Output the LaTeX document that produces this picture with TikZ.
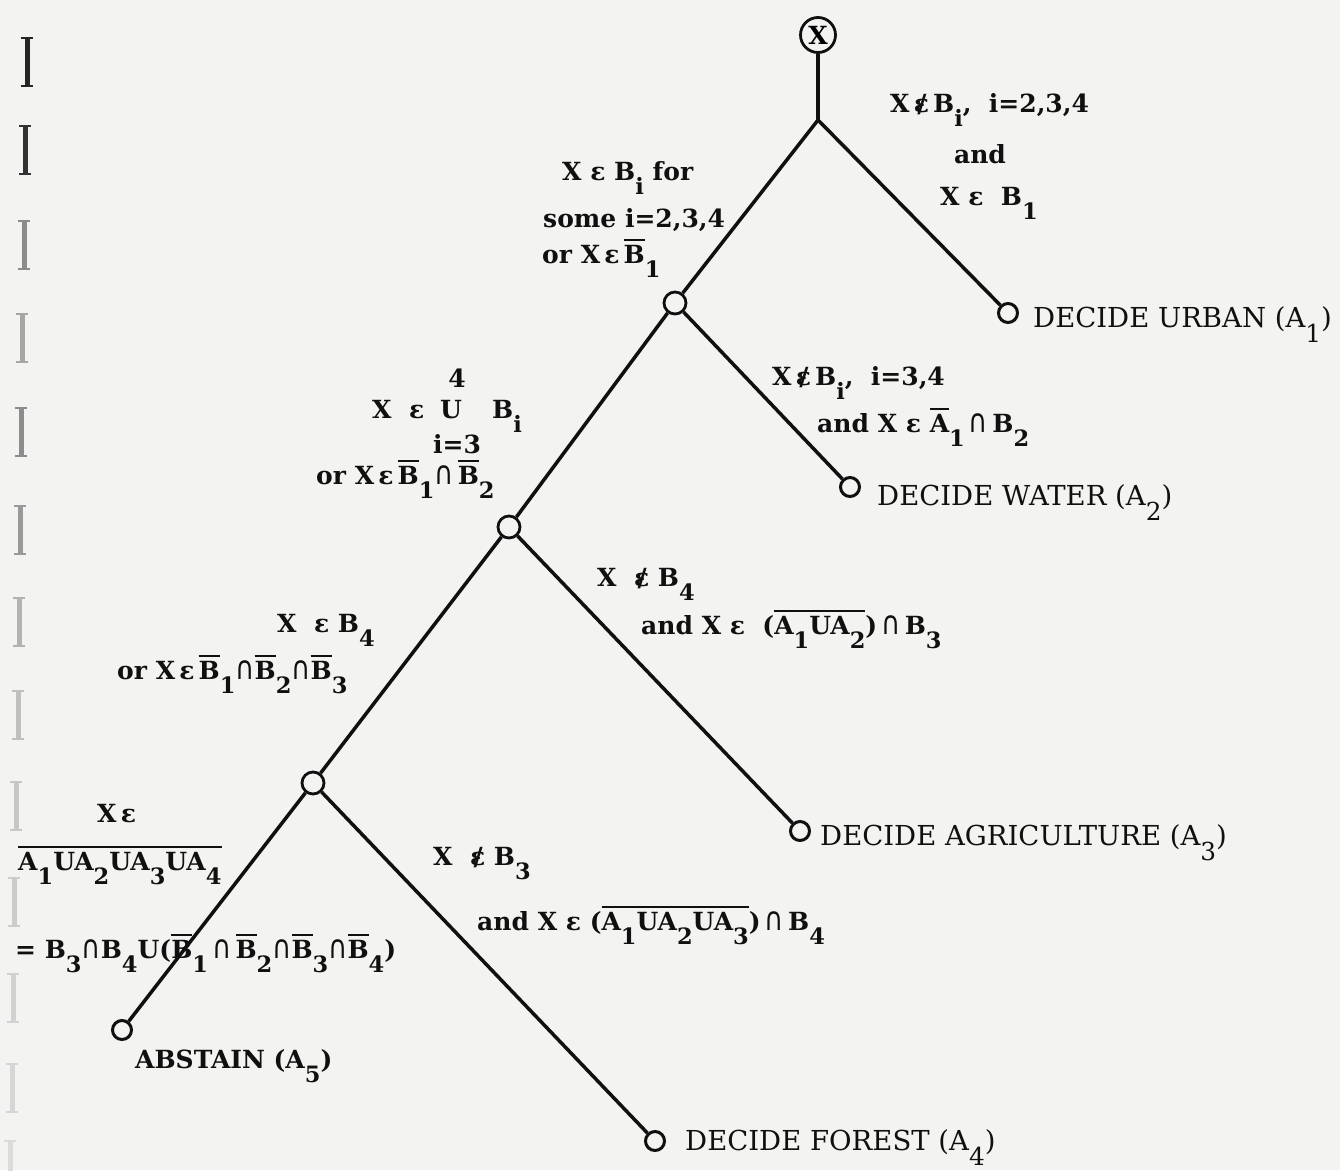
\documentclass[tikz,border=0pt]{standalone}
\usepackage{fontspec}
\setmainfont{DejaVu Serif}
\newfontfamily\symf{DejaVu Sans}
\definecolor{paper}{HTML}{F3F3F1}
\definecolor{ink}{HTML}{101010}
\newcommand\lo[1]{\raisebox{-0.58em}{\scalebox{0.9}{#1}}}
\newcommand\ob[1]{\setbox0\hbox{#1}\rlap{\raisebox{\dimexpr\ht0+4pt\relax}{\rule{\wd0}{2pt}}}\box0}
\newcommand\eps{ε}
\newcommand\nin{\ooalign{ε\cr\hidewidth\kern0.05em/\hidewidth\cr}}
\newcommand\icap{\scalebox{1.05}[1.3]{\symf\mdseries ∩}}
\tikzset{
  edge/.style={draw=ink, line width=3.5pt},
  leaf/.style={circle, draw=ink, line width=3pt, minimum size=19pt, inner sep=0pt},
  inner/.style={circle, draw=ink, line width=2.8pt, minimum size=22pt, inner sep=0pt, fill=paper},
  rootn/.style={circle, draw=ink, line width=2.8pt, minimum size=35pt, inner sep=0pt, font=\fontsize{25}{27}\selectfont\bfseries},
  cond/.style={font=\fontsize{25}{28}\selectfont\bfseries, text=ink, anchor=base west, inner sep=0pt},
  dec/.style={font=\fontsize{27.5}{30}\selectfont, text=ink, anchor=base west, inner sep=0pt}
}
\begin{document}
\begin{tikzpicture}[x=1pt,y=-1pt]
\fill[paper] (0,0) rectangle (1340,1170);
\useasboundingbox (0,0) rectangle (1340,1170);
% binding marks
\foreach \yy/\gg/\xx in {62/85/27,150/80/25,245/45/24,338/35/22,432/45/21,530/40/20,622/30/19,715/25/18,806/22/16,902/20/14,998/18/13,1088/16/12,1165/14/10}{
  \draw[black!\gg, line width=5pt] (\xx,\yy-24) -- (\xx,\yy+24);
  \draw[black!\gg, line width=2pt] (\xx-6,\yy-24) -- (\xx+6,\yy-24);
  \draw[black!\gg, line width=2pt] (\xx-6,\yy+24) -- (\xx+6,\yy+24);
}
% tree nodes
\node[rootn] (root) at (818,35) {X};
\coordinate (s0) at (818,120);
\node[inner] (n1) at (675,303) {};
\node[inner] (n2) at (509,527) {};
\node[inner] (n3) at (313,783) {};
\node[leaf] (urban) at (1008,313) {};
\node[leaf] (water) at (850,487) {};
\node[leaf] (agri) at (800,831) {};
\node[leaf] (forest) at (655,1141) {};
\node[leaf] (abst) at (122,1030) {};
% connectors
\draw[edge] (root) -- (s0);
\draw[edge] (s0) -- (urban);
\draw[edge] (s0) -- (n1);
\draw[edge] (n1) -- (water);
\draw[edge] (n1) -- (n2);
\draw[edge] (n2) -- (agri);
\draw[edge] (n2) -- (n3);
\draw[edge] (n3) -- (forest);
\draw[edge] (n3) -- (abst);
% leaf labels
\node[dec] (lurban) at (1033,327) {DECIDE URBAN (A\lo{1})};
\node[dec] (lwater) at (877,505) {DECIDE WATER (A\lo{2})};
\node[dec] (lagri) at (820,845) {DECIDE AGRICULTURE (A\lo{3})};
\node[dec] (lforest) at (685,1150) {DECIDE FOREST (A\lo{4})};
\node[cond] (labst) at (135,1068) {ABSTAIN (A\lo{5})};
% conditions, level 0
\node[cond] (c0a) at (890,112) {X\,\nin\,B\lo{i}, \ i=2,3,4};
\node[cond, anchor=base] (c0b) at (980,163) {and};
\node[cond] (c0c) at (940,205) {X \eps\ \ B\lo{1}};
\node[cond] (c1a) at (562,180) {X \eps\ B\lo{i} for};
\node[cond] (c1b) at (543,227) {some i=2,3,4};
\node[cond] (c1c) at (542,263) {or X\,\eps\,\ob{B}\lo{1}};
% level 1
\node[cond] (c2a) at (772,385) {X\,\nin\,B\lo{i}, \ i=3,4};
\node[cond] (c2b) at (817,432) {and X \eps\ \ob{A}\lo{1}\,\icap\,B\lo{2}};
\node[cond, anchor=base] (c3s) at (457,387) {4};
\node[cond] (c3x) at (372,418) {X \ \eps};
\node[cond, anchor=base] (c3u) at (451,418) {U};
\node[cond] (c3b) at (492,418) {B\lo{i}};
\node[cond, anchor=base] (c3i) at (457,453) {i=3};
\node[cond] (c3c) at (316,484) {or X\,\eps\,\ob{B}\lo{1}\icap\,\ob{B}\lo{2}};
% level 2
\node[cond] (c4a) at (597,586) {X \ \nin\ B\lo{4}};
\node[cond] (c4b) at (641,634) {and X \eps\ \ (\ob{A\lo{1}UA\lo{2}})\,\icap\,B\lo{3}};
\node[cond] (c5a) at (277,632) {X \ \eps\ B\lo{4}};
\node[cond] (c5b) at (117,679) {or X\,\eps\,\ob{B}\lo{1}\icap\ob{B}\lo{2}\icap\ob{B}\lo{3}};
% level 3
\node[cond] (c6a) at (433,865) {X \ \nin\ B\lo{3}};
\node[cond] (c6b) at (477,930) {and X \eps\ (\ob{A\lo{1}UA\lo{2}UA\lo{3}})\,\icap\,B\lo{4}};
\node[cond] (c7a) at (97,822) {X\,\eps};
\node[cond] (c7b) at (18,870) {\ob{A\lo{1}UA\lo{2}UA\lo{3}UA\lo{4}}};
\node[cond] (c7c) at (15,958) {= B\lo{3}\icap B\lo{4}U(\ob{B}\lo{1}\,\icap\,\ob{B}\lo{2}\icap\ob{B}\lo{3}\icap\ob{B}\lo{4})};
\end{tikzpicture}
\end{document}
